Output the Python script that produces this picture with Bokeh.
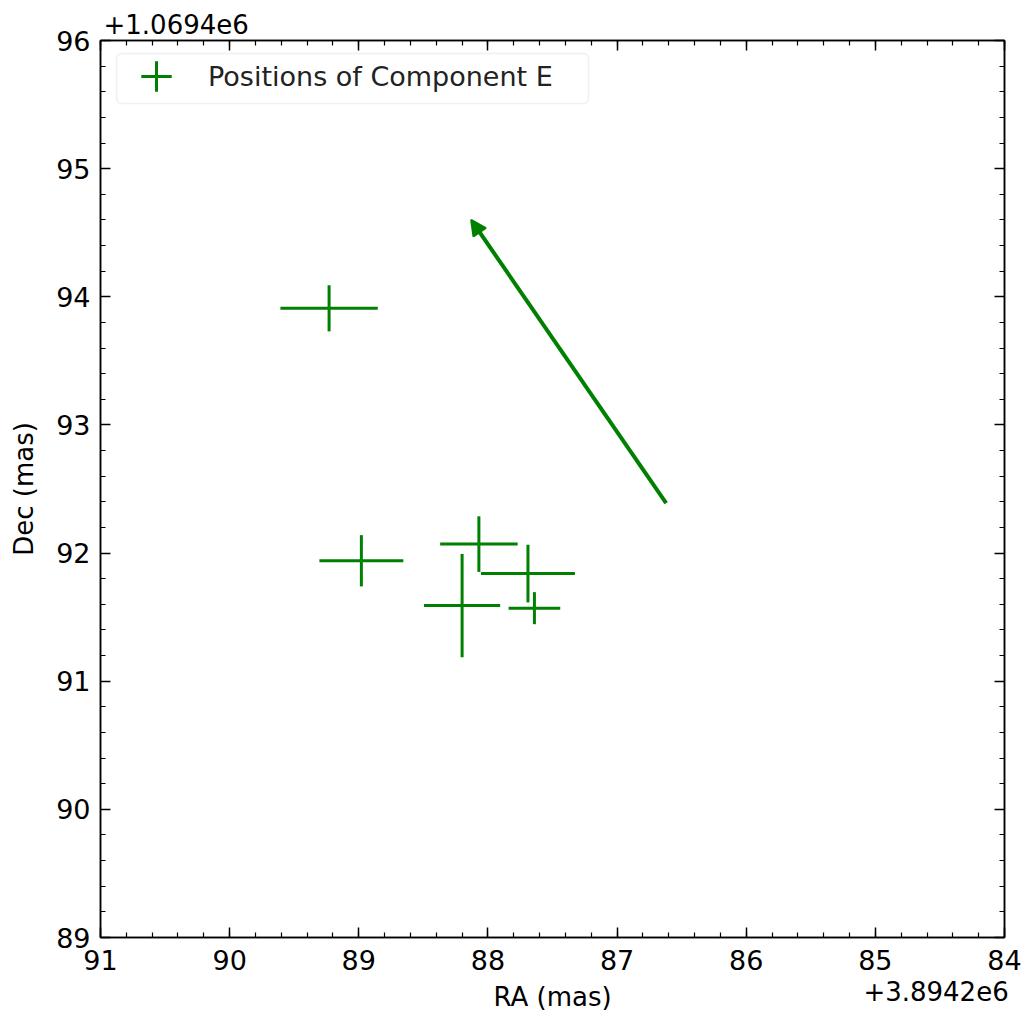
from bokeh.plotting import figure
from bokeh.models import (Range1d, LinearAxis, SingleIntervalTicker, FixedTicker, ColumnDataSource,
                          Arrow, NormalHead, Title, Legend, LegendItem, CustomJSTickFormatter,
                          BoxAnnotation)
from bokeh.embed import file_html
from bokeh.resources import INLINE

# ---- data (offsets relative to the axis base values) ----
ra_offset = [89.23, 88.98, 88.07, 87.69, 88.20, 87.64]
dec_offset = [93.91, 91.94, 92.07, 91.84, 91.59, 91.57]
ra_err = [0.377, 0.325, 0.300, 0.364, 0.295, 0.200]
dec_err = [0.180, 0.200, 0.217, 0.225, 0.403, 0.125]
arrow_start = [86.62, 92.39]
arrow_end = [88.13, 94.60]
ra_base_label = "+3.8942e6"
dec_base_label = "+1.0694e6"
legend_label = "Positions of Component E"

GREEN = "#008000"
FONT = "DejaVu Sans"
FS = "26px"    # axis labels / offset texts
TFS = "27px"   # tick labels
LFS = "27px"   # legend

src = ColumnDataSource(dict(
    x=ra_offset, y=dec_offset,
    x0=[x - e for x, e in zip(ra_offset, ra_err)],
    x1=[x + e for x, e in zip(ra_offset, ra_err)],
    y0=[y - e for y, e in zip(dec_offset, dec_err)],
    y1=[y + e for y, e in zip(dec_offset, dec_err)],
))

p = figure(width=1023, height=1014, output_backend="svg", toolbar_location=None,
           x_range=Range1d(91, 84), y_range=Range1d(89, 96),
           min_border_left=100, min_border_right=19, min_border_top=40, min_border_bottom=77)
p.grid.visible = False
p.outline_line_color = "black"
p.outline_line_width = 1.5

ticker = SingleIntervalTicker(interval=1, num_minor_ticks=5)
blank = CustomJSTickFormatter(code='return ""')

def style(ax, labels=True):
    ax.ticker = ticker
    ax.axis_line_width = 1.5
    ax.major_tick_in = 10
    ax.major_tick_out = 0
    ax.minor_tick_in = 5
    ax.minor_tick_out = 0
    ax.major_tick_line_width = 1.5
    ax.minor_tick_line_width = 1.2
    ax.major_label_text_font = FONT
    ax.major_label_text_font_size = TFS
    ax.major_label_text_color = "black"
    ax.axis_label_text_font = FONT
    ax.axis_label_text_font_style = "normal"
    ax.axis_label_text_font_size = FS
    ax.axis_label_text_color = "black"
    if not labels:
        ax.formatter = blank
        ax.major_label_standoff = 0

style(p.xaxis[0])
style(p.yaxis[0])
p.yaxis[0].axis_label = "Dec (mas)"
p.xaxis[0].major_label_standoff = 12
p.yaxis[0].major_label_standoff = 10
p.yaxis[0].axis_label_standoff = 14

top = LinearAxis()
style(top, labels=False)
p.add_layout(top, "above")
right = LinearAxis()
style(right, labels=False)
p.add_layout(right, "right")

# second bottom axis: carries the x-axis label and the RA offset text
xoff = LinearAxis(ticker=FixedTicker(ticks=[84.53], minor_ticks=[]),
                  formatter=CustomJSTickFormatter(args=dict(t=ra_base_label), code="return t"),
                  axis_label="RA (mas)")
xoff.axis_line_color = None
xoff.major_tick_line_color = None
xoff.minor_tick_line_color = None
xoff.major_tick_in = 0
xoff.major_tick_out = 0
xoff.major_label_standoff = 8
xoff.major_label_text_font = FONT
xoff.major_label_text_font_size = FS
xoff.major_label_text_color = "black"
xoff.axis_label_text_font = FONT
xoff.axis_label_text_font_style = "normal"
xoff.axis_label_text_font_size = FS
xoff.axis_label_text_color = "black"
xoff.axis_label_standoff = -22
p.add_layout(xoff, "below")

# offset text of the y axis
p.add_layout(Title(text=dec_base_label, align="left", offset=3, standoff=10,
                   text_font=FONT, text_font_size=FS, text_font_style="normal",
                   text_color="black", vertical_align="top"), "above")

# error-bar crosses
p.segment(x0="x0", y0="y", x1="x1", y1="y", source=src, line_color=GREEN, line_width=3)
p.segment(x0="x", y0="y0", x1="x", y1="y1", source=src, line_color=GREEN, line_width=3)
sc = p.scatter(x="x", y="y", source=src, marker="cross", size=0.1, line_color=GREEN, line_width=3)

# proper-motion arrow
p.add_layout(Arrow(x_start=arrow_start[0], y_start=arrow_start[1],
                   x_end=arrow_end[0], y_end=arrow_end[1],
                   line_color=GREEN, line_width=4,
                   end=NormalHead(size=15, fill_color=GREEN, line_color=GREEN, line_width=2)))

# legend frame (screen units, relative to the plot frame) and legend
p.add_layout(BoxAnnotation(left=16, right=488, top=884, bottom=834,
                           left_units="screen", right_units="screen",
                           top_units="screen", bottom_units="screen",
                           fill_color="white", fill_alpha=0.85,
                           line_color="#cccccc", line_width=1.5, border_radius=5))
legend = Legend(items=[LegendItem(label=legend_label, renderers=[sc])],
                location=(16, 823), margin=0, padding=0,
                glyph_width=80, glyph_height=76, label_height=76,
                label_standoff=12, border_line_color=None, background_fill_alpha=0.0,
                label_text_font=FONT, label_text_font_size=LFS, label_text_color="#222222")
p.add_layout(legend)

open("out.html", "w").write(file_html(p, INLINE))
